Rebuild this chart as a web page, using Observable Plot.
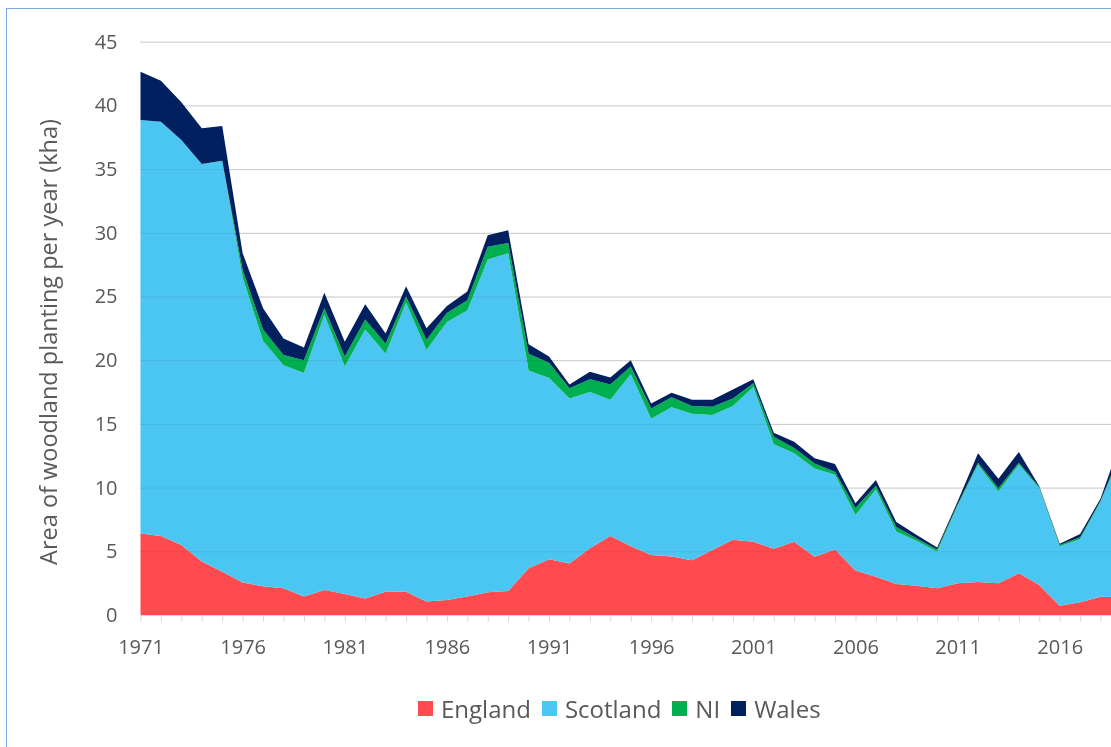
<!DOCTYPE html>
<html><head><meta charset="utf-8">
<script src="https://cdn.jsdelivr.net/npm/d3@7"></script>
<script src="https://cdn.jsdelivr.net/npm/@observablehq/plot@0.6"></script>
<style>
html,body{margin:0;padding:0;background:#fff;overflow:hidden;}
#wrap{position:relative;width:1111px;height:747px;overflow:hidden;font-family:"Open Sans",sans-serif;background:#fff;}
#frame{position:absolute;left:6px;top:8px;width:1300px;height:900px;border-left:1.5px solid #79a9de;border-top:1.5px solid #79a9de;box-sizing:border-box;}
#chart{position:absolute;left:0;top:0;}
#chart svg{overflow:hidden;}
#ylabel{position:absolute;left:48px;top:342px;transform:translate(-50%,-50%) rotate(-90deg);white-space:nowrap;font-size:23.5px;color:#595959;}
#legend{position:absolute;left:418px;top:692px;display:flex;align-items:center;font-size:24px;color:#595959;white-space:nowrap;}
#legend .item{display:flex;align-items:center;margin-right:11px;}
#legend .sw{width:15px;height:15px;margin-right:8px;}
</style>
</head><body>
<div id="wrap">
  <div id="frame"></div>
  <div id="chart"></div>
  <div id="ylabel">Area of woodland planting per year (kha)</div>
  <div id="legend"></div>
</div>
<script>
const years = d3.range(1971, 2020);
const regions = ["England", "Scotland", "NI", "Wales"];
const colors = ["#ff4b4f", "#4bc6f2", "#00b050", "#002060"];
const england = [6.4,6.2,5.5,4.2,3.4,2.55,2.25,2.1,1.45,1.97,
  1.65,1.3,1.83,1.83,1.05,1.18,1.45,1.78,1.88,3.66,
  4.37,4.05,5.23,6.2,5.4,4.7,4.6,4.3,5.1,5.9,
  5.75,5.2,5.75,4.58,5.15,3.5,3.0,2.43,2.3,2.1,
  2.5,2.6,2.5,3.27,2.35,0.73,1.0,1.44,1.4];
const scotland = [32.45,32.52,31.78,31.2,32.26,23.95,19.25,17.5,17.55,21.6,
  17.85,21.1,18.67,22.67,19.75,21.82,22.45,26.12,26.52,15.54,
  14.23,12.95,12.27,10.7,13.5,10.7,11.7,11.5,10.6,10.5,
  12.15,8.2,6.95,6.92,5.85,4.35,6.85,4.12,3.5,2.87,
  6.05,9.2,7.2,8.53,7.6,4.67,4.95,7.46,11.2];
const ni = [0,0,0,0,0,0.6,0.9,0.8,1.0,0.5,
  0.8,0.8,0.8,0.5,0.8,0.7,0.8,1.0,0.8,1.3,
  1.2,0.8,1.0,1.2,0.6,0.8,0.8,0.6,0.65,0.6,
  0.3,0.6,0.4,0.4,0.25,0.55,0.3,0.35,0.2,0.18,
  0.15,0.15,0.25,0.15,0.1,0.1,0.15,0.07,0.3];
const wales = [3.8,3.22,2.96,2.8,2.72,1.3,1.67,1.3,1.0,1.23,
  1.15,1.2,0.8,0.8,0.9,0.55,0.7,0.9,1.0,0.75,
  0.5,0.3,0.6,0.55,0.5,0.4,0.35,0.5,0.55,0.7,
  0.3,0.3,0.5,0.4,0.6,0.37,0.45,0.4,0.28,0.15,
  0.2,0.75,0.75,0.85,0.05,0.1,0.26,0.18,0.8];
const yTicks = d3.range(0, 50, 5);
const xLabelTicks = d3.range(1971, 2020, 5);

const series = [england, scotland, ni, wales];
const data = [];
regions.forEach((r, i) => years.forEach((yr, j) => data.push({year: yr, region: r, value: series[i][j]})));

const chart = Plot.plot({
  width: 1111,
  height: 670,
  marginLeft: 140,
  marginRight: 0,
  marginTop: 42,
  marginBottom: 55,
  style: {fontFamily: "'Open Sans', sans-serif", background: "transparent"},
  x: {type: "linear", domain: [1971, 2019], range: [140.5, 1121]},
  y: {domain: [0, 45], range: [615, 41.7]},
  color: {domain: regions, range: colors},
  marks: [
    Plot.gridY(yTicks, {stroke: "#d9d9d9", strokeOpacity: 1}),
    Plot.ruleY([0], {stroke: "#d9d9d9"}),
    Plot.areaY(data, {x: "year", y: "value", fill: "region", order: regions, clip: true}),
    Plot.gridY(yTicks.filter(d => d > 0), {stroke: "#d9d9d9", strokeOpacity: 0.5, mixBlendMode: "multiply"}),
    Plot.axisX(years, {tickSize: 7, tickFormat: () => "", stroke: "#d9d9d9", label: null}),
    Plot.axisX(xLabelTicks, {tickSize: 0, tickPadding: 24, fontSize: 20, color: "#595959", tickFormat: d => String(d), label: null}),
    Plot.axisY(yTicks, {tickSize: 0, tickPadding: 23, fontSize: 20, color: "#595959", label: null})
  ]
});
document.getElementById("chart").appendChild(chart);

const legend = document.getElementById("legend");
regions.forEach((r, i) => {
  const it = document.createElement("div");
  it.className = "item";
  const sw = document.createElement("div");
  sw.className = "sw";
  sw.style.background = colors[i];
  const t = document.createElement("span");
  t.textContent = r;
  it.appendChild(sw); it.appendChild(t);
  legend.appendChild(it);
});
</script>
</body></html>
